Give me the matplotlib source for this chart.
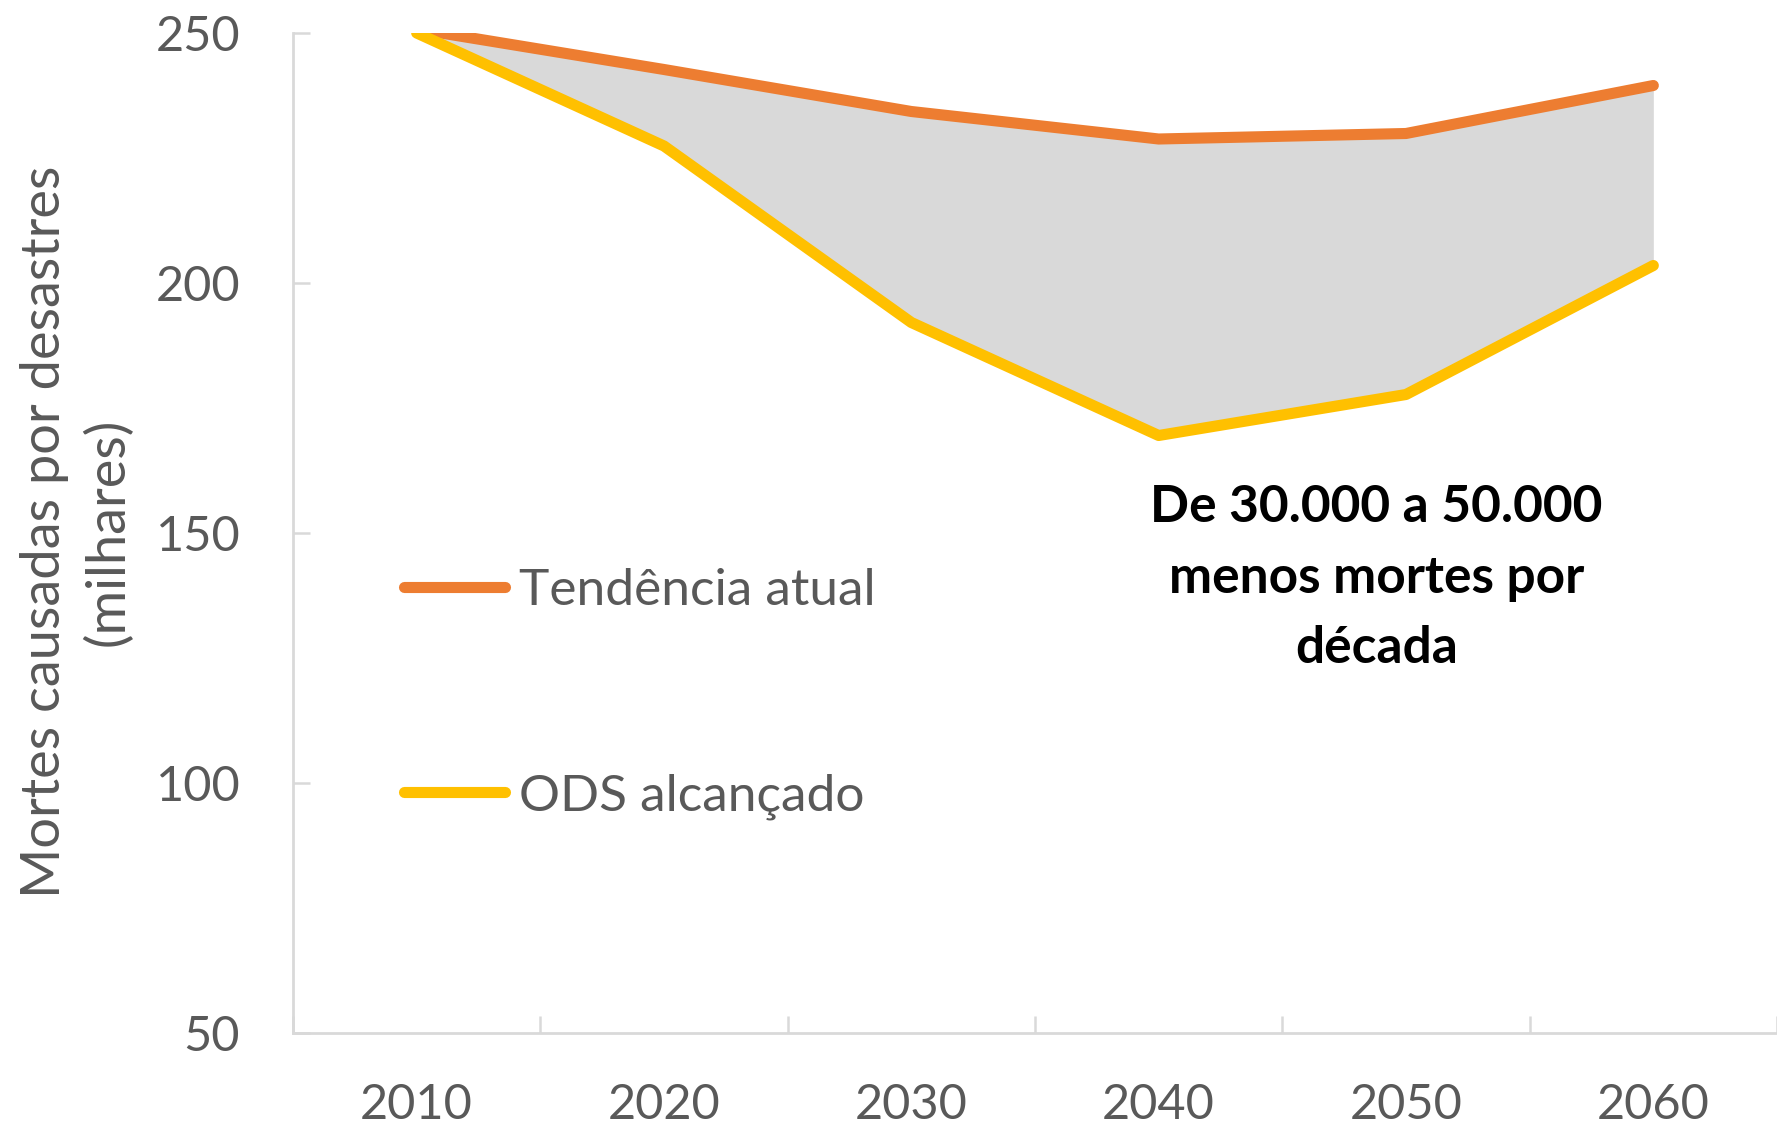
import numpy as np
import matplotlib.pyplot as plt
from matplotlib.lines import Line2D

# dados (milhares de mortes por década)
decadas = ['2010', '2020', '2030', '2040', '2050', '2060']
tendencia_atual = [250.8, 242.7, 234.3, 228.8, 229.9, 239.5]
ods_alcancado = [250, 227.4, 192.1, 169.5, 177.7, 203.5]
y_ticks = [50, 100, 150, 200, 250]

LARANJA = '#ED7D31'
AMARELO = '#FFC000'
CINZA_AREA = '#D9D9D9'
CINZA_TEXTO = '#595959'
CINZA_EIXO = '#D9D9D9'

plt.rcParams['font.family'] = ['Lato', 'DejaVu Sans']

fig = plt.figure(figsize=(17.77, 11.24), dpi=100)
ax = fig.add_axes([293 / 1777, 1 - 1033 / 1124, 1 - 293 / 1777, 1000 / 1124])

x = np.arange(len(decadas))

# área entre as duas trajetórias
ax.fill_between(x, ods_alcancado, tendencia_atual, color=CINZA_AREA, lw=0, zorder=1)
ax.plot(x, tendencia_atual, color=LARANJA, lw=8, solid_capstyle='round',
        solid_joinstyle='round', zorder=2)
ax.plot(x, ods_alcancado, color=AMARELO, lw=8, solid_capstyle='round',
        solid_joinstyle='round', zorder=3)

ax.set_xlim(-0.5, len(decadas) - 0.5)
ax.set_ylim(50, 250)

# eixos estilo Excel
for s in ['top', 'right']:
    ax.spines[s].set_visible(False)
for s in ['left', 'bottom']:
    ax.spines[s].set_color(CINZA_EIXO)
    ax.spines[s].set_linewidth(2)

ax.set_yticks(y_ticks)
ax.set_yticklabels([str(v) for v in y_ticks])
ax.set_xticks(x)
ax.set_xticklabels(decadas)
ax.set_xticks(np.arange(-0.5, len(decadas)), minor=True)

ax.tick_params(axis='y', direction='in', length=12, width=1.8, color=CINZA_EIXO,
               labelcolor=CINZA_TEXTO, labelsize=35, pad=38)
ax.tick_params(axis='x', which='major', length=0, labelcolor=CINZA_TEXTO,
               labelsize=35, pad=36)
ax.tick_params(axis='x', which='minor', direction='in', length=12, width=1.8,
               color=CINZA_EIXO)

fig.text(76.5 / 1777, 1 - 532 / 1124,
         'Mortes causadas por desastres\n(milhares)',
         rotation=90, ha='center', va='center', multialignment='center',
         fontsize=39, color=CINZA_TEXTO, linespacing=1.32)

# legenda dentro da área do gráfico
handles = [
    Line2D([], [], color=LARANJA, lw=8, solid_capstyle='round'),
    Line2D([], [], color=AMARELO, lw=8, solid_capstyle='round'),
]
leg = ax.legend(handles, ['Tendência atual', 'ODS alcançado'],
                loc='center left', bbox_to_anchor=(0.0748, 0.339),
                frameon=False, fontsize=37, handlelength=1.97,
                handletextpad=0.26, labelspacing=3.1, borderpad=0,
                borderaxespad=0)
for t in leg.get_texts():
    t.set_color(CINZA_TEXTO)

ax.text(3.88, 141, 'De 30.000 a 50.000\nmenos mortes por\ndécada',
        ha='center', va='center', fontsize=37, fontweight='bold',
        color='black', linespacing=1.62)

fig.savefig('out.png', dpi=100)
